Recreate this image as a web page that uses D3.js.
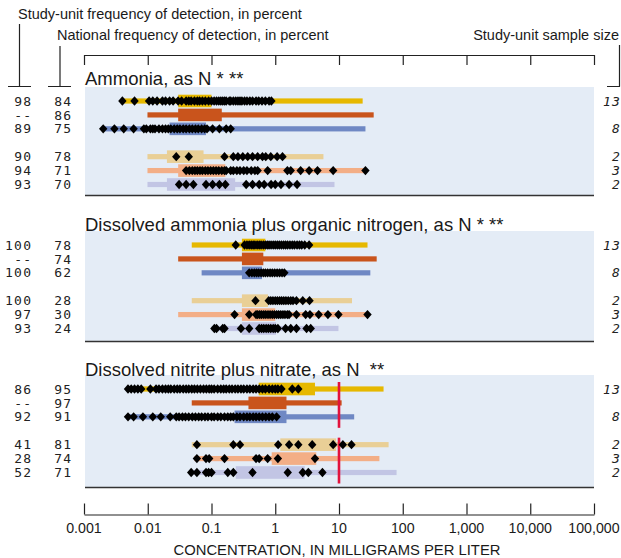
<!DOCTYPE html>
<html><head><meta charset="utf-8">
<script src="https://cdn.jsdelivr.net/npm/d3@7"></script>
<style>
body{margin:0;background:#fff;}
svg{display:block;}
text{font-family:"Liberation Sans",Arial,sans-serif;fill:#1a1a1a;}
.num{font-family:"DejaVu Sans Mono",monospace;font-size:13px;letter-spacing:1.2px;fill:#222;}
.n-italic{font-style:italic;}
</style></head><body><svg id="chart" width="621" height="558"></svg>
<script>
// Concentration axis
const axisTicks = [0.001, 0.01, 0.1, 1, 10, 100, 1000, 10000, 100000];
const tickLabels = ["0.001", "0.01", "0.1", "1", "10", "100", "1,000", "10,000", "100,000"];

const panelTitles = [
  "Ammonia, as N * **",
  "Dissolved ammonia plus organic nitrogen, as N * **",
  "Dissolved nitrite plus nitrate, as N\u00a0\u00a0**"
];

// Frequency-of-detection columns and sample sizes, one entry per row
const studyUnitFreq = [
  ["98", "--", "89", "90", "94", "93"],
  ["100", "--", "100", "100", "97", "93"],
  ["86", "--", "92", "41", "28", "52"]
];
const nationalFreq = [
  ["84", "86", "75", "78", "71", "70"],
  ["78", "74", "62", "28", "30", "24"],
  ["95", "97", "91", "81", "74", "71"]
];
const sampleSizes = ["13", "", "8", "2", "3", "2"];

// Ammonia, as N (mg/L)
const ammoniaRange = [[0.004, 23.5], [0.0099, 35], [0.0019, 26], [0.0099, 5.7], [0.0099, 26], [0.0099, 8.5]];
const ammoniaBox = [[0.030, 0.10], [0.030, 0.145], [0.022, 0.082], [0.020, 0.075], [0.030, 0.165], [0.020, 0.235]];
const ammoniaSamples = [
  [0.004, 0.0062, 0.0105, 0.012, 0.014, 0.017, 0.019, 0.022, 0.025, 0.03, 0.034, 0.04, 0.044, 0.048, 0.054, 0.06, 0.065, 0.072, 0.08, 0.09, 0.1, 0.11, 0.12, 0.13, 0.14, 0.15, 0.16, 0.17, 0.19, 0.2, 0.22, 0.24, 0.26, 0.28, 0.3, 0.33, 0.36, 0.4, 0.44, 0.5, 0.55, 0.62, 0.7, 0.8, 0.87],
  [],
  [0.002, 0.003, 0.0042, 0.006, 0.0087, 0.0095, 0.011, 0.012, 0.013, 0.015, 0.017, 0.019, 0.021, 0.023, 0.026, 0.029, 0.032, 0.036, 0.04, 0.045, 0.05, 0.056, 0.062, 0.07, 0.078, 0.085, 0.104, 0.133, 0.17, 0.2],
  [0.028, 0.044, 0.16, 0.22, 0.26, 0.31, 0.37, 0.44, 0.53, 0.63, 0.71, 0.85, 1.07, 1.3],
  [0.040, 0.045, 0.05, 0.055, 0.06, 0.066, 0.072, 0.08, 0.088, 0.097, 0.107, 0.118, 0.13, 0.145, 0.16, 0.17, 0.2, 0.22, 0.25, 0.28, 0.32, 0.36, 0.42, 0.48, 0.53, 0.76, 1.55, 1.75, 2.5, 3.4, 4.6, 8.1, 26],
  [0.031, 0.040, 0.052, 0.082, 0.104, 0.133, 0.165, 0.35, 0.44, 0.56, 0.67, 0.86, 1.0, 1.23, 1.65, 2.2]
];

// Dissolved ammonia plus organic nitrogen, as N (mg/L)
const organicRange = [[0.049, 28], [0.030, 39], [0.070, 31], [0.049, 16], [0.030, 26.5], [0.10, 9.8]];
const organicBox = [[0.30, 0.70], [0.30, 0.65], [0.30, 0.62], [0.30, 0.77], [0.30, 1.0], [0.30, 1.03]];
const organicSamples = [
  [0.24, 0.33, 0.36, 0.39, 0.42, 0.45, 0.48, 0.52, 0.56, 0.6, 0.65, 0.7, 0.75, 0.8, 0.86, 0.93, 1.0, 1.08, 1.16, 1.25, 1.35, 1.45, 1.56, 1.7, 1.85, 2.0, 2.2, 2.4, 2.6, 2.9, 3.4],
  [],
  [0.39, 0.43, 0.47, 0.51, 0.55, 0.6, 0.65, 0.7, 0.76, 0.83, 0.9, 0.98, 1.07, 1.17, 1.28, 1.39],
  [0.49, 0.79, 0.85, 0.92, 1.0, 1.08, 1.17, 1.26, 1.36, 1.47, 1.6, 1.75, 1.9, 2.15, 2.7, 3.45],
  [0.23, 0.39, 0.5, 0.53, 0.57, 0.61, 0.66, 0.71, 0.77, 0.83, 0.9, 0.97, 1.05, 1.13, 1.22, 1.32, 1.42, 1.55, 1.65, 2.15, 3.0, 3.5, 4.8, 6.7, 9.8, 28],
  [0.111, 0.12, 0.15, 0.16, 0.29, 0.39, 0.56, 0.61, 0.66, 0.72, 0.78, 0.85, 0.93, 1.0, 1.1, 1.45, 1.75, 2.15, 3.1, 3.6]
];

// Dissolved nitrite plus nitrate, as N (mg/L)
const nitrateRange = [[0.0048, 50], [0.049, 11], [0.0046, 17.3], [0.049, 60], [0.054, 43], [0.045, 80]];
const nitrateBox = [[0.55, 4.2], [0.38, 1.5], [0.23, 1.5], [1.2, 9.0], [0.88, 4.4], [0.24, 2.9]];
const nitrateSamples = [
  [0.0049, 0.0055, 0.0062, 0.007, 0.0079, 0.011, 0.0135, 0.015, 0.017, 0.019, 0.021, 0.023, 0.026, 0.029, 0.032, 0.036, 0.04, 0.044, 0.049, 0.054, 0.06, 0.067, 0.075, 0.083, 0.092, 0.1, 0.11, 0.125, 0.14, 0.155, 0.17, 0.19, 0.21, 0.235, 0.26, 0.29, 0.32, 0.36, 0.4, 0.45, 0.5, 0.56, 0.63, 0.7, 0.8, 0.9, 1.0, 1.1, 1.25, 1.85, 2.3],
  [],
  [0.0049, 0.006, 0.0084, 0.012, 0.016, 0.0225, 0.028, 0.031, 0.035, 0.039, 0.044, 0.05, 0.056, 0.063, 0.07, 0.079, 0.088, 0.1, 0.11, 0.125, 0.14, 0.16, 0.18, 0.2, 0.22, 0.25, 0.28, 0.32, 0.36, 0.4, 0.45, 0.5, 0.56, 0.63, 0.71, 0.8, 0.9, 1.05],
  [0.059, 0.22, 0.28, 1.11, 1.65, 2.3, 3.8, 8.1, 11.5, 15.7],
  [0.059, 0.082, 0.092, 0.16, 0.5, 0.56, 0.76, 1.1, 4.2],
  [0.048, 0.059, 0.082, 0.09, 0.1, 0.18, 0.22, 0.44, 1.57, 2.7, 3.3, 5.5]
];

// Drinking-water standard for nitrate
const nitrateStandard = 10;

const rowColors = ["#e6b800", "#c9541c", "#6f88c4", "#e9cf96", "#f3ae86", "#c2c5e4"];

// ---------------------------------------------------------------
const svg = d3.select("#chart");
const x = d3.scaleLog().domain([0.001, 100000]).range([84, 594]);

const panels = [
  {title: panelTitles[0], range: ammoniaRange, box: ammoniaBox, samples: ammoniaSamples, top: 87, h: 108, titleY: 85, standard: null},
  {title: panelTitles[1], range: organicRange, box: organicBox, samples: organicSamples, top: 231, h: 110, titleY: 231, standard: null},
  {title: panelTitles[2], range: nitrateRange, box: nitrateBox, samples: nitrateSamples, top: 375, h: 112, titleY: 376, standard: nitrateStandard}
];

// six rows per panel, with a gap between the first three and last three
const rowSlot = [0, 1, 2, 4, 5, 6];
const slotY = d3.scaleLinear().domain([0, 6]).range([14, 97.5]);

// Header labels and brackets
const hdr = svg.append("g");
hdr.append("text").attr("x", 18).attr("y", 19).attr("font-size", 14.5).text("Study-unit frequency of detection, in percent");
hdr.append("text").attr("x", 57).attr("y", 40).attr("font-size", 14.5).text("National frequency of detection, in percent");
hdr.append("text").attr("x", 619).attr("y", 40).attr("font-size", 14.5).attr("text-anchor", "end").text("Study-unit sample size");
const bracket = (vx, y0, hx0, hx1) => {
  hdr.append("path")
    .attr("d", `M${vx},${y0}V86.5M${hx0},86.5H${hx1}`)
    .attr("fill", "none").attr("stroke", "#222").attr("stroke-width", 1.2);
};
bracket(19.5, 24, 8, 31);
bracket(60, 46, 48, 71);
bracket(619.5, 45, 607, 620);

// Top axis (ticks only)
const topAxis = svg.append("g").attr("transform", "translate(0,55)")
  .call(d3.axisBottom(x).tickValues(axisTicks).tickSize(10).tickSizeOuter(0).tickFormat(""));
topAxis.select(".domain").attr("stroke", "#222").attr("stroke-width", 1.2);
topAxis.selectAll(".tick line").attr("stroke", "#222").attr("stroke-width", 1.2);

// Bottom axis
const botAxis = svg.append("g").attr("transform", "translate(0,514.5)")
  .call(d3.axisTop(x).tickValues(axisTicks).tickSize(11).tickSizeOuter(0).tickFormat(""));
botAxis.select(".domain").attr("stroke", "#222").attr("stroke-width", 1.2);
botAxis.selectAll(".tick line").attr("stroke", "#222").attr("stroke-width", 1.2);
svg.append("g").selectAll("text").data(axisTicks).join("text")
  .attr("x", d => x(d)).attr("y", 533)
  .attr("text-anchor", "middle").attr("font-size", 14.2)
  .text((d, i) => tickLabels[i]);
svg.append("text").attr("x", 337).attr("y", 555).attr("text-anchor", "middle")
  .attr("font-size", 14.8).text("CONCENTRATION, IN MILLIGRAMS PER LITER");

const diamond = "M0,-4.7L4.2,0L0,4.7L-4.2,0Z";

panels.forEach((p, pi) => {
  const g = svg.append("g");
  g.append("rect").attr("x", 85).attr("y", p.top).attr("width", 509).attr("height", p.h).attr("fill", "#e4ecf6");
  g.append("line").attr("x1", 85).attr("x2", 594).attr("y1", p.top + p.h + 0.5).attr("y2", p.top + p.h + 0.5)
    .attr("stroke", "#333").attr("stroke-width", 1.6);
  g.append("text").attr("x", 85).attr("y", p.titleY).attr("font-size", 18.5).text(p.title);

  const rowY = i => p.top + slotY(rowSlot[i]);

  // range lines
  g.selectAll(".rng").data(p.range).join("rect").attr("class", "rng")
    .attr("x", d => x(d[0])).attr("width", d => x(d[1]) - x(d[0]))
    .attr("y", (d, i) => rowY(i) - 2.6).attr("height", 5.2)
    .attr("fill", (d, i) => rowColors[i]);
  // interquartile boxes
  g.selectAll(".box").data(p.box).join("rect").attr("class", "box")
    .attr("x", d => x(d[0])).attr("width", d => x(d[1]) - x(d[0]))
    .attr("y", (d, i) => rowY(i) - 6.3).attr("height", 12.6)
    .attr("fill", (d, i) => rowColors[i]);

  if (p.standard !== null) {
    [[0, 2], [3, 5]].forEach(([a, b]) => {
      g.append("line").attr("x1", x(p.standard)).attr("x2", x(p.standard))
        .attr("y1", rowY(a) - 7).attr("y2", rowY(b) + 11)
        .attr("stroke", "#e2123c").attr("stroke-width", 2.6);
    });
  }

  // individual samples
  p.samples.forEach((vals, i) => {
    g.selectAll(null).data(vals).join("path")
      .attr("d", diamond)
      .attr("transform", d => `translate(${x(d)},${rowY(i)})`)
      .attr("fill", "#000");
  });

  // frequency columns
  studyUnitFreq[pi].forEach((s, i) => {
    g.append("text").attr("class", "num").attr("x", 32.2).attr("y", rowY(i) + 4.6)
      .attr("text-anchor", "end").text(s);
  });
  nationalFreq[pi].forEach((s, i) => {
    g.append("text").attr("class", "num").attr("x", 72.2).attr("y", rowY(i) + 4.6)
      .attr("text-anchor", "end").text(s);
  });
  sampleSizes.forEach((s, i) => {
    if (!s) return;
    g.append("text").attr("class", "num n-italic").attr("x", 621).attr("y", rowY(i) + 4.6)
      .attr("text-anchor", "end").text(s);
  });
});
</script></body></html>
